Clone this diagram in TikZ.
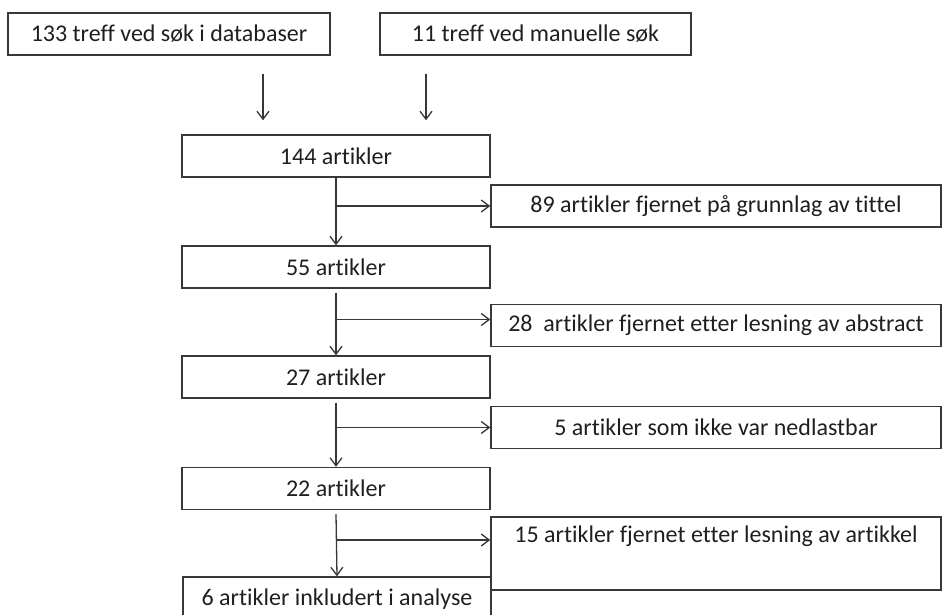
\documentclass[tikz,border=0pt]{standalone}
\usepackage{fontspec}
\setmainfont{Carlito}[Ligatures=NoCommon]
\usetikzlibrary{arrows.meta}
\begin{document}
\begin{tikzpicture}[
  x=1pt, y=-1pt,
  font=\fontsize{24}{29}\selectfont,
  box/.style={draw=black!78, line width=1.4pt, text=black!88,
    inner sep=0pt, align=center, minimum height=42pt},
  src/.style={box},
  stage/.style={box, minimum width=308pt},
  excl/.style={box, minimum width=450pt},
  flow/.style={draw=black!78, line width=1.3pt,
    -{Straight Barb[length=8pt,width=12pt]}}]
\useasboundingbox (0,0) rectangle (945,615);
\node[src, minimum width=322pt] (db) at (169,34) {133 treff ved søk i databaser};
\node[src, minimum width=311pt] (man) at (535.5,34) {11 treff ved manuelle søk};
\node[stage] (a144) at (336,156) {144 artikler};
\node[excl] (r89) at (716,206) {89 artikler fjernet på grunnlag av tittel};
\node[stage] (a55) at (336,267) {55 artikler};
\node[excl] (r28) at (716,325.5) {28\ \ artikler fjernet etter lesning av abstract};
\node[stage] (a27) at (336,377) {27 artikler};
\node[excl] (r5) at (716,427.5) {5 artikler som ikke var nedlastbar};
\node[stage] (a22) at (336,488.5) {22 artikler};
\node[excl, minimum height=73pt] (r15) at (716,553.5) {15 artikler fjernet etter lesning av artikkel\\ \strut};
\node[stage, minimum height=45pt] (a6) at (337,599.5) {6 artikler inkludert i analyse};

\draw[flow] ([xshift=94pt,yshift=-18pt]db.south) -- ([xshift=-73pt,yshift=14pt]a144.north);
\draw[flow] ([xshift=-109.5pt,yshift=-18pt]man.south) -- ([xshift=90pt,yshift=14pt]a144.north);

\draw[flow] (a144.south) -- (a55.north);
\draw[flow] (a144.south |- r89.west) -- (r89.west);
\draw[flow] ([yshift=-4pt]a55.south) -- (a27.north);
\draw[flow] ([yshift=6pt]a55.south |- r28.west) -- ([yshift=6pt]r28.west);
\draw[flow] ([yshift=-4pt]a27.south) -- (a22.north);
\draw[flow] (a27.south |- r5.west) -- (r5.west);
\draw[flow] ([yshift=-4pt]a22.south) -- (a6.north);
\draw[flow] ([yshift=13.5pt]a22.south |- r15.west) -- ([yshift=13.5pt]r15.west);
\end{tikzpicture}
\end{document}
